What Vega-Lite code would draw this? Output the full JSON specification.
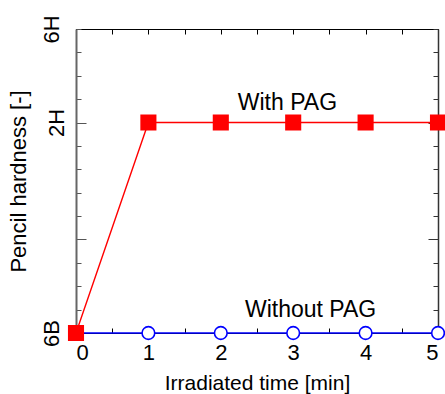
{
  "$schema": "https://vega.github.io/schema/vega-lite/v6.json",
  "width": 362,
  "height": 304,
  "autosize": "none",
  "padding": {"left": 76, "top": 29, "right": 7, "bottom": 61},
  "background": "white",
  "config": {
    "view": {"stroke": "black", "strokeWidth": 1},
    "font": "Liberation Sans",
    "axis": {"grid": false, "labelFont": "Liberation Sans", "titleFont": "Liberation Sans", "labelColor": "black", "titleColor": "black", "titleFontWeight": "normal"}
  },
  "datasets": {
    "series": [
      {"time": 0, "hardness": 0, "series": "Without PAG"},
      {"time": 1, "hardness": 0, "series": "Without PAG"},
      {"time": 2, "hardness": 0, "series": "Without PAG"},
      {"time": 3, "hardness": 0, "series": "Without PAG"},
      {"time": 4, "hardness": 0, "series": "Without PAG"},
      {"time": 5, "hardness": 0, "series": "Without PAG"},
      {"time": 0, "hardness": 0, "series": "With PAG"},
      {"time": 1, "hardness": 9, "series": "With PAG"},
      {"time": 2, "hardness": 9, "series": "With PAG"},
      {"time": 3, "hardness": 9, "series": "With PAG"},
      {"time": 4, "hardness": 9, "series": "With PAG"},
      {"time": 5, "hardness": 9, "series": "With PAG"}
    ],
    "labels": [
      {"time": 2.92, "hardness": 9.54, "label": "With PAG"},
      {"time": 3.24, "hardness": 0.7, "label": "Without PAG"}
    ]
  },
  "resolve": {"axis": {"x": "independent", "y": "independent"}},
  "layer": [
    {
      "data": {"name": "series"},
      "mark": {"type": "line", "strokeWidth": 1.4, "clip": false},
      "encoding": {
        "x": {"field": "time", "type": "quantitative", "scale": {"domain": [0, 5], "nice": false},
          "axis": {"orient": "top", "values": [0,0.5,1,1.5,2,2.5,3,3.5,4,4.5,5], "labels": false, "title": null, "tickSize": -5, "tickColor": "black", "domainColor": "black", "domainWidth": 1}},
        "y": {"field": "hardness", "type": "quantitative", "scale": {"domain": [0, 13], "nice": false},
          "axis": {"orient": "right", "values": [0,1,2,3,4,5,6,7,8,9,10,11,12,13], "labels": false, "title": null,
            "tickSize": {"condition": {"test": "datum.value == 4 || datum.value == 9", "value": -10}, "value": -5},
            "tickColor": "#333", "domainColor": "#333", "domainWidth": 1.5}},
        "color": {"field": "series", "type": "nominal", "scale": {"domain": ["Without PAG", "With PAG"], "range": ["#0000ff", "#ff0000"]}, "legend": null},
        "detail": {"field": "series"}
      }
    },
    {
      "data": {"name": "series"},
      "mark": {"type": "point", "filled": false, "strokeWidth": 1.6, "opacity": 1, "clip": false},
      "encoding": {
        "x": {"field": "time", "type": "quantitative",
          "axis": {"orient": "bottom", "values": [0,0.5,1,1.5,2,2.5,3,3.5,4,4.5,5], "labelExpr": "datum.value % 1 == 0 ? format(datum.value, 'd') : ''", "labelFontSize": 22, "labelPadding": 14, "title": "Irradiated time [min]", "titleFontSize": 21, "titlePadding": 9, "tickSize": -5, "tickColor": "black", "domainColor": "black"}},
        "y": {"field": "hardness", "type": "quantitative",
          "axis": {"orient": "left", "values": [0,1,2,3,4,5,6,7,8,9,10,11,12,13],
            "labelExpr": "datum.value == 0 ? '6B' : datum.value == 9 ? '2H' : datum.value == 13 ? '6H' : ''",
            "labelAngle": 270, "labelAlign": "center", "labelBaseline": "bottom", "labelFontSize": 22, "labelPadding": 18,
            "tickSize": {"condition": {"test": "datum.value == 4 || datum.value == 9", "value": -10}, "value": -5},
            "tickColor": "#555", "domainColor": "#666", "domainWidth": 2,
            "title": "Pencil hardness [-]", "titleFontSize": 22, "titlePadding": 10}},
        "shape": {"field": "series", "type": "nominal", "scale": {"domain": ["Without PAG", "With PAG"], "range": ["circle", "square"]}, "legend": null},
        "size": {"field": "series", "type": "nominal", "scale": {"domain": ["Without PAG", "With PAG"], "range": [160, 210]}, "legend": null},
        "fill": {"field": "series", "type": "nominal", "scale": {"domain": ["Without PAG", "With PAG"], "range": ["#ffffff", "#ff0000"]}, "legend": null},
        "stroke": {"field": "series", "type": "nominal", "scale": {"domain": ["Without PAG", "With PAG"], "range": ["#0000ff", "#ff0000"]}, "legend": null}
      }
    },
    {
      "data": {"name": "labels"},
      "mark": {"type": "text", "fontSize": 23, "font": "Liberation Sans", "color": "black", "align": "center", "baseline": "alphabetic"},
      "encoding": {
        "x": {"field": "time", "type": "quantitative", "axis": null},
        "y": {"field": "hardness", "type": "quantitative", "axis": null},
        "text": {"field": "label"}
      }
    }
  ]
}
